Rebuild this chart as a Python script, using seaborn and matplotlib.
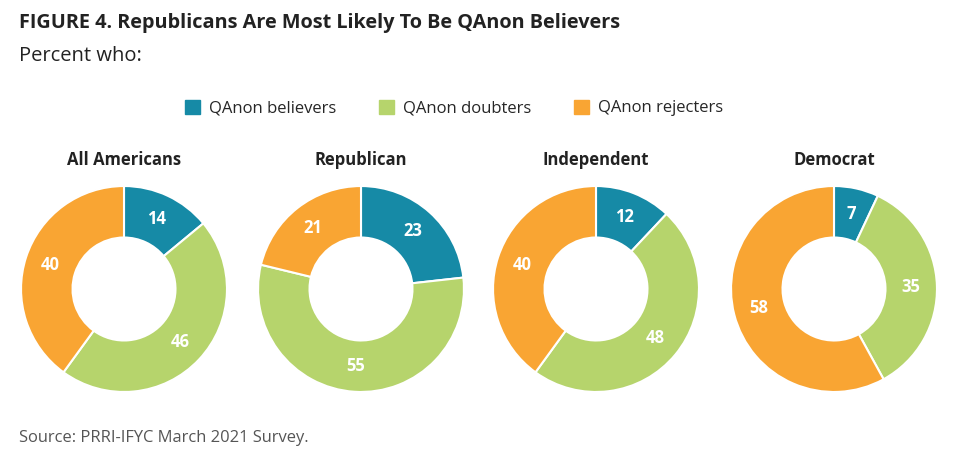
import matplotlib
matplotlib.use("Agg")
import matplotlib.pyplot as plt
import seaborn as sns

groups = ["All Americans", "Republican", "Independent", "Democrat"]
series = ["QAnon believers", "QAnon doubters", "QAnon rejecters"]
believers = [14, 23, 12, 7]
doubters = [46, 55, 48, 35]
rejecters = [40, 21, 40, 58]

colors = ["#168aa6", "#b6d46c", "#f9a533"]

sns.set_theme(style="white")
plt.rcParams["font.family"] = ["Open Sans", "DejaVu Sans"]

W, H = 959, 466
fig = plt.figure(figsize=(W / 100, H / 100), dpi=100)

centers_x = [124, 361, 596, 834]
cy, r = 289, 104

for i, g in enumerate(groups):
    cx = centers_x[i]
    ax = fig.add_axes([(cx - r) / W, (H - cy - r) / H, 2 * r / W, 2 * r / H])
    vals = [believers[i], doubters[i], rejecters[i]]
    wedges, texts = ax.pie(
        vals, colors=colors, startangle=90, counterclock=False, radius=1,
        labels=[str(v) for v in vals], labeldistance=0.75,
        wedgeprops=dict(width=0.5, edgecolor="white", linewidth=1.5),
        textprops=dict(color="white", fontweight="bold", fontsize=12,
                       ha="center", va="center"),
    )
    for t in texts:
        t.set_horizontalalignment("center")
    ax.set_xlim(-1.01, 1.01)
    ax.set_ylim(-1.01, 1.01)
    ax.set_aspect("equal")
    ax.axis("off")
    fig.text(cx / W, 1 - 160 / H, g, ha="center", va="center",
             fontsize=12, fontweight="bold", color="#222222")

fig.text(19 / W, 1 - 23 / H, "FIGURE 4. Republicans Are Most Likely To Be QAnon Believers",
         ha="left", va="center", fontsize=14.3, fontweight="bold", color="#222222")
fig.text(19 / W, 1 - 56 / H, "Percent who:", ha="left", va="center",
         fontsize=14.5, color="#222222")
fig.text(19 / W, 1 - 438 / H, "Source: PRRI-IFYC March 2021 Survey.", ha="left", va="center",
         fontsize=11.9, color="#555555")

handles = [plt.Rectangle((0, 0), 1, 1, color=c) for c in colors]
fig.legend(handles, series, loc="center", bbox_to_anchor=(454 / W, 1 - 108 / H),
           ncol=3, frameon=False, fontsize=12, handlelength=0.9, handleheight=0.9,
           columnspacing=2.6, handletextpad=0.5, borderpad=0, borderaxespad=0)

fig.savefig("out.png", dpi=100)
